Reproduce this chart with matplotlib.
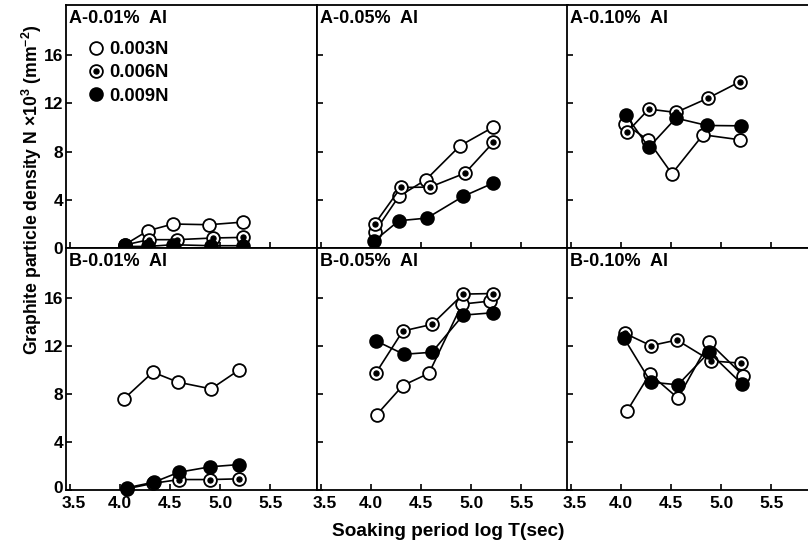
import matplotlib
matplotlib.use('Agg')
import matplotlib.pyplot as plt
import matplotlib.transforms as mtransforms
from matplotlib.lines import Line2D
from matplotlib.legend_handler import HandlerTuple

plt.rcParams['font.family'] = ['Liberation Sans', 'DejaVu Sans']
plt.rcParams['font.weight'] = 'bold'
plt.rcParams['mathtext.fontset'] = 'custom'
plt.rcParams['mathtext.rm'] = 'Liberation Sans:bold'
plt.rcParams['mathtext.it'] = 'Liberation Sans:bold'
plt.rcParams['mathtext.bf'] = 'Liberation Sans:bold'
plt.rcParams['mathtext.sf'] = 'Liberation Sans:bold'

# ---------------- data ----------------
series_labels = ['0.003N', '0.006N', '0.009N']
panel_titles = [['A-0.01%  Al', 'A-0.05%  Al', 'A-0.10%  Al'],
                ['B-0.01%  Al', 'B-0.05%  Al', 'B-0.10%  Al']]
x_ticks = [3.5, 4.0, 4.5, 5.0, 5.5]
x_ticklabels = ['3.5', '4.0', '4.5', '5.0', '5.5']
y_ticks = [0, 4, 8, 12, 16]
y_ticklabels = ['0', '4', '8', '12', '16']

# A - 0.01% Al
a001_x_003 = [4.05, 4.28, 4.53, 4.89, 5.23]
a001_y_003 = [0.27, 1.43, 1.99, 1.93, 2.15]
a001_x_006 = [4.05, 4.29, 4.57, 4.93, 5.23]
a001_y_006 = [0.25, 0.69, 0.69, 0.83, 0.88]
a001_x_009 = [4.05, 4.28, 4.53, 4.91, 5.23]
a001_y_009 = [0.13, 0.13, 0.27, 0.19, 0.19]
# A - 0.05% Al
a005_x_003 = [4.04, 4.28, 4.55, 4.89, 5.22]
a005_y_003 = [1.33, 4.28, 5.66, 8.48, 10.02]
a005_x_006 = [4.04, 4.30, 4.59, 4.94, 5.22]
a005_y_006 = [1.99, 5.02, 5.05, 6.21, 8.75]
a005_x_009 = [4.03, 4.28, 4.56, 4.92, 5.22]
a005_y_009 = [0.55, 2.26, 2.48, 4.28, 5.38]
# A - 0.10% Al
a010_x_003 = [4.04, 4.27, 4.51, 4.82, 5.19]
a010_y_003 = [10.30, 8.97, 6.16, 9.39, 8.97]
a010_x_006 = [4.06, 4.28, 4.55, 4.87, 5.19]
a010_y_006 = [9.58, 11.52, 11.24, 12.43, 13.80]
a010_x_009 = [4.05, 4.28, 4.55, 4.86, 5.20]
a010_y_009 = [11.04, 8.34, 10.77, 10.16, 10.13]
# B - 0.01% Al
b001_x_003 = [4.04, 4.33, 4.58, 4.91, 5.19]
b001_y_003 = [7.57, 9.81, 8.98, 8.42, 10.00]
b001_x_006 = [4.07, 4.33, 4.59, 4.90, 5.19]
b001_y_006 = [0.10, 0.55, 0.87, 0.87, 0.93]
b001_x_009 = [4.07, 4.34, 4.59, 4.90, 5.19]
b001_y_009 = [0.18, 0.65, 1.48, 1.93, 2.12]
# B - 0.05% Al
b005_x_003 = [4.06, 4.32, 4.58, 4.91, 5.19]
b005_y_003 = [6.27, 8.70, 9.72, 15.48, 15.73]
b005_x_006 = [4.05, 4.32, 4.61, 4.92, 5.22]
b005_y_006 = [9.72, 13.24, 13.79, 16.31, 16.36]
b005_x_009 = [4.05, 4.33, 4.61, 4.92, 5.22]
b005_y_009 = [12.43, 11.30, 11.47, 14.56, 14.76]
# B - 0.10% Al
b010_x_003 = [4.06, 4.29, 4.57, 4.88, 5.22]
b010_y_003 = [6.54, 9.67, 7.65, 12.30, 9.53]
b010_x_006 = [4.04, 4.30, 4.56, 4.90, 5.20]
b010_y_006 = [13.05, 12.02, 12.49, 10.75, 10.56]
b010_x_009 = [4.03, 4.30, 4.57, 4.88, 5.21]
b010_y_009 = [12.68, 8.98, 8.76, 11.47, 8.81]

panel_data = [
    [[(a001_x_003, a001_y_003), (a001_x_006, a001_y_006), (a001_x_009, a001_y_009)],
     [(a005_x_003, a005_y_003), (a005_x_006, a005_y_006), (a005_x_009, a005_y_009)],
     [(a010_x_003, a010_y_003), (a010_x_006, a010_y_006), (a010_x_009, a010_y_009)]],
    [[(b001_x_003, b001_y_003), (b001_x_006, b001_y_006), (b001_x_009, b001_y_009)],
     [(b005_x_003, b005_y_003), (b005_x_006, b005_y_006), (b005_x_009, b005_y_009)],
     [(b010_x_003, b010_y_003), (b010_x_006, b010_y_006), (b010_x_009, b010_y_009)]],
]

# ---------------- layout ----------------
W, H = 808, 544
fig = plt.figure(figsize=(W / 100, H / 100), dpi=100)
col_left = [66, 317, 567]
col_w = 251
row_top = [5, 248]
row_bot = [248, 490]

MS = 9.2
MEW = 1.3
LW = 1.2

def draw_series(ax, x, y, kind):
    if kind == 0:
        ax.plot(x, y, color='black', lw=LW, marker='o', ms=MS, mfc='white',
                mec='black', mew=MEW, clip_on=False, zorder=3)
    elif kind == 1:
        ax.plot(x, y, color='black', lw=LW, marker='o', ms=MS, mfc='white',
                mec='black', mew=MEW, clip_on=False, zorder=3)
        ax.plot(x, y, ls='none', marker='o', ms=3.6, mfc='black', mec='black',
                clip_on=False, zorder=3)
    else:
        ax.plot(x, y, color='black', lw=LW, marker='o', ms=MS, mfc='black',
                mec='black', mew=MEW, clip_on=False, zorder=3)

axes = []
for r in range(2):
    for c in range(3):
        l = col_left[c] / W
        b = 1 - row_bot[r] / H
        h = (row_bot[r] - row_top[r]) / H
        ax = fig.add_axes([l, b, col_w / W, h])
        ax.set_xlim(3.465, 5.965)
        ax.set_ylim(0, 20.15)
        ax.set_xticks(x_ticks)
        ax.set_yticks(y_ticks)
        if r == 1:
            ax.set_xticklabels(x_ticklabels)
        else:
            ax.set_xticklabels([])
        if c == 0:
            ax.set_yticklabels(y_ticklabels)
        else:
            ax.set_yticklabels([])
        ax.tick_params(direction='in', length=4.5, width=1.2, labelsize=12.5,
                       top=False, right=False)
        ax.tick_params(axis='x', pad=4)
        ax.tick_params(axis='y', pad=2)
        for lab in ax.get_xticklabels() + ax.get_yticklabels():
            lab.set_fontweight('bold')
        if r == 1:
            # first x label sits a little right of its tick, as in the print
            lab = ax.get_xticklabels()[0]
            lab.set_transform(lab.get_transform() +
                              mtransforms.ScaledTranslation(4 / 100, 0, fig.dpi_scale_trans))
        if r == 1 and c == 0:
            lab = ax.get_yticklabels()[0]
            lab.set_transform(lab.get_transform() +
                              mtransforms.ScaledTranslation(0, 3 / 100, fig.dpi_scale_trans))
        for s in ax.spines.values():
            s.set_linewidth(1.3)
        ax.annotate(panel_titles[r][c], xy=(0, 1), xycoords='axes fraction',
                    xytext=(3, -5), textcoords='offset pixels', ha='left', va='top',
                    fontsize=13, fontweight='bold')
        for k, (x, y) in enumerate(panel_data[r][c]):
            draw_series(ax, x, y, k)
        axes.append(ax)

# legend in first panel
h_open = Line2D([], [], ls='none', marker='o', ms=MS, mfc='white', mec='black', mew=MEW)
h_ring = Line2D([], [], ls='none', marker='o', ms=MS, mfc='white', mec='black', mew=MEW)
h_dot = Line2D([], [], ls='none', marker='o', ms=3.6, mfc='black', mec='black')
h_fill = Line2D([], [], ls='none', marker='o', ms=MS, mfc='black', mec='black', mew=MEW)
axes[0].legend([h_open, (h_ring, h_dot), h_fill], series_labels,
               handler_map={tuple: HandlerTuple(ndivide=1)},
               loc='upper left', bbox_to_anchor=(0.085, 0.852), frameon=False,
               borderpad=0, borderaxespad=0, handlelength=0.92, handletextpad=0.3,
               labelspacing=0.35, prop={'size': 13.2, 'weight': 'bold'})

fig.text(32 / W, 1 - 190 / H,
         r'Graphite particle density N ×10$^{3}$ (mm$^{-2}$)',
         rotation=90, ha='center', va='center', fontsize=12.7, fontweight='bold')
fig.text(448 / W, 1 - 532 / H, 'Soaking period log T(sec)',
         ha='center', va='center', fontsize=13.7, fontweight='bold')

fig.savefig('out.png', dpi=100)
